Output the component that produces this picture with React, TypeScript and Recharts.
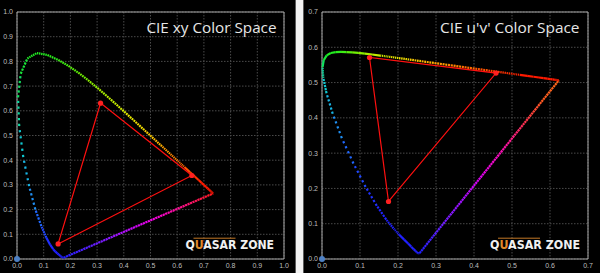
import React from "react";
import { ScatterChart, Scatter, XAxis, YAxis, CartesianGrid, ReferenceArea } from "recharts";

// CIE 1931 spectral locus, 380-700 nm in 5 nm steps
const wavelengths = [
  380, 385, 390, 395, 400, 405, 410, 415, 420, 425, 430, 435, 440, 445, 450, 455, 460, 465, 470, 475,
  480, 485, 490, 495, 500, 505, 510, 515, 520, 525, 530, 535, 540, 545, 550, 555, 560, 565, 570, 575,
  580, 585, 590, 595, 600, 605, 610, 615, 620, 625, 630, 635, 640, 645, 650, 655, 660, 665, 670, 675,
  680, 685, 690, 695, 700,
];

const locusX = [
  0.1741, 0.174, 0.1738, 0.1736, 0.1733, 0.173, 0.1726, 0.1721, 0.1714, 0.1703, 0.1689, 0.1669, 0.1644,
  0.1611, 0.1566, 0.151, 0.144, 0.1355, 0.1241, 0.1096, 0.0913, 0.0687, 0.0454, 0.0235, 0.0082, 0.0039,
  0.0139, 0.0389, 0.0743, 0.1142, 0.1547, 0.1929, 0.2296, 0.2658, 0.3016, 0.3373, 0.3731, 0.4087, 0.4441,
  0.4788, 0.5125, 0.5448, 0.5752, 0.6029, 0.627, 0.6482, 0.6658, 0.6801, 0.6915, 0.7006, 0.7079, 0.714,
  0.719, 0.723, 0.726, 0.7283, 0.73, 0.7311, 0.732, 0.7327, 0.7334, 0.734, 0.7344, 0.7346, 0.7347,
];
const locusY = [
  0.005, 0.005, 0.0049, 0.0049, 0.0048, 0.0048, 0.0048, 0.0048, 0.0051, 0.0058, 0.0069, 0.0086, 0.0109,
  0.0138, 0.0177, 0.0227, 0.0297, 0.0399, 0.0578, 0.0868, 0.1327, 0.2007, 0.295, 0.4127, 0.5384, 0.6548,
  0.7502, 0.812, 0.8338, 0.8262, 0.8059, 0.7816, 0.7543, 0.7243, 0.6923, 0.6589, 0.6245, 0.5896, 0.5547,
  0.5202, 0.4866, 0.4544, 0.4242, 0.3965, 0.3725, 0.3514, 0.334, 0.3197, 0.3083, 0.2993, 0.292, 0.2859,
  0.2809, 0.277, 0.274, 0.2717, 0.27, 0.2689, 0.268, 0.2673, 0.2666, 0.266, 0.2656, 0.2654, 0.2653,
];

// same locus in CIE 1976 u'v'
const locusU = [
  0.2568, 0.2566, 0.2564, 0.2561, 0.2557, 0.2552, 0.2545, 0.2537, 0.2522, 0.2496, 0.2461, 0.2411, 0.2347,
  0.2266, 0.2161, 0.2033, 0.1877, 0.169, 0.1441, 0.1147, 0.0828, 0.0521, 0.0282, 0.0119, 0.0035, 0.0014,
  0.0046, 0.0123, 0.0231, 0.036, 0.0501, 0.0643, 0.0792, 0.0953, 0.1127, 0.1319, 0.1531, 0.1766, 0.2026,
  0.2312, 0.2623, 0.296, 0.3315, 0.3681, 0.4035, 0.4379, 0.4692, 0.4968, 0.5203, 0.5399, 0.5565, 0.5709,
  0.583, 0.5929, 0.6005, 0.6064, 0.6109, 0.6138, 0.6162, 0.618, 0.6199, 0.6215, 0.6226, 0.6231, 0.6234,
];
const locusV = [
  0.0166, 0.0166, 0.0163, 0.0163, 0.0159, 0.0159, 0.0159, 0.0159, 0.0169, 0.0191, 0.0226, 0.0279, 0.035,
  0.0437, 0.0549, 0.0688, 0.0871, 0.1119, 0.151, 0.2044, 0.2708, 0.3427, 0.4117, 0.4698, 0.5131, 0.5432,
  0.5638, 0.577, 0.5837, 0.5861, 0.5868, 0.5865, 0.5856, 0.5841, 0.5821, 0.5796, 0.5766, 0.5732, 0.5694,
  0.5651, 0.5604, 0.5554, 0.5501, 0.5446, 0.5393, 0.5342, 0.5296, 0.5254, 0.5219, 0.519, 0.5165, 0.5143,
  0.5125, 0.5111, 0.5099, 0.509, 0.5084, 0.5079, 0.5076, 0.5073, 0.507, 0.5068, 0.5066, 0.5065, 0.5065,
];

// colour of each 5 nm step (segment starts at that wavelength)
const locusColors = [
  "#2020ff", "#2020ff", "#2020ff", "#2020ff", "#2020ff", "#2020ff", "#2020ff", "#2020ff", "#2020ff",
  "#2020ff", "#2020ff", "#2020ff", "#2020ff", "#2020ff", "#2020ff", "#2020ff", "#2020ff", "#2024ff",
  "#2030ff", "#2048ff", "#2068ff", "#2090f4", "#18b4e4", "#10c8d0", "#10d8a0", "#10e060", "#18e838",
  "#20ea24", "#22ec20", "#2cec1c", "#40ee14", "#58ee0c", "#70ee04", "#8cee00", "#a8ee00", "#c0ee00",
  "#d4ec00", "#e6e600", "#f0dc00", "#f8c800", "#ffb400", "#ff9c00", "#ff8400", "#ff6c00", "#ff5400",
  "#ff4000", "#ff3000", "#ff2400", "#ff1a00", "#ff1a00", "#ff1a00", "#ff1a00", "#ff1a00", "#ff1a00",
  "#ff1a00", "#ff1a00", "#ff1a00", "#ff1a00", "#ff1a00", "#ff1a00", "#ff1a00", "#ff1a00", "#ff1a00",
  "#ff1a00", "#ff1a00",
];

// measured gamut: blue, green, red
const gamutX = [0.154, 0.313, 0.655];
const gamutY = [0.061, 0.631, 0.338];
const gamutU = [0.175, 0.125, 0.458];
const gamutV = [0.163, 0.571, 0.527];

const xyTicks = [0, 0.1, 0.2, 0.3, 0.4, 0.5, 0.6, 0.7, 0.8, 0.9, 1.0];
const uvTicks = [0, 0.1, 0.2, 0.3, 0.4, 0.5, 0.6, 0.7];

const xyPurpleStops = [
  [0, "#2020ff"], [0.22, "#6a1eff"], [0.4, "#b010ff"], [0.58, "#f000e8"], [0.78, "#ff1090"], [1, "#ff1a1a"],
];
const uvPurpleStops = [
  [0, "#2020ff"], [0.16, "#6a1eff"], [0.3, "#a010ff"], [0.44, "#e000f0"], [0.6, "#ff10b0"],
  [0.75, "#ff3050"], [0.88, "#ff5a20"], [1, "#ff6a18"],
];

const PLOT_H = 247;
const DOT = 2.2;
const noShape = () => <g />;
const tickStyle = { fill: "#bdbdbd", fontSize: 7, fontFamily: "Liberation Sans, Arial, sans-serif" };

const markerShape = (p: any) => <circle cx={p.cx} cy={p.cy} r={2.6} fill="#ff2020" />;
const originShape = (p: any) => <circle cx={p.cx} cy={p.cy} r={3} fill="#4d80c4" />;

interface PanelProps {
  left: number;
  width: number;
  yAxisWidth: number;
  ticks: number[];
  xs: number[];
  ys: number[];
  gx: number[];
  gy: number[];
  gradId: string;
  stops: (string | number)[][];
  title: string;
  titleStart: number;
  titleEnd: number;
  markStart: number;
  markEnd: number;
}

const Panel: React.FC<PanelProps> = (p) => {
  const max = p.ticks[p.ticks.length - 1];
  const sx = (p.width - p.yAxisWidth - 12) / max;
  const sy = PLOT_H / max;

  // each 5 nm step is drawn as five square dots, like a 1 nm sampled locus
  const segments = p.xs.slice(0, -1).map((x, i) => {
    const len = Math.hypot((p.xs[i + 1] - x) * sx, (p.ys[i + 1] - p.ys[i]) * sy);
    const step = len / 5;
    const dot = Math.min(DOT, step - 0.7);
    return {
      color: locusColors[i],
      dash: step > 1.7 ? `${dot.toFixed(2)} ${(step - dot).toFixed(2)}` : undefined,
      data: [
        { x, y: p.ys[i] },
        { x: p.xs[i + 1], y: p.ys[i + 1] },
      ],
    };
  });
  const last = p.xs.length - 1;
  const purple = [
    { x: p.xs[0], y: p.ys[0] },
    { x: p.xs[last], y: p.ys[last] },
  ];
  const gamut = p.gx.map((x, i) => ({ x, y: p.gy[i] }));
  const triangle = [...gamut, gamut[0]];

  return (
    <div style={{ position: "absolute", left: p.left, top: 0, width: p.width, height: 273, background: "#000" }}>
      <ScatterChart width={p.width} height={273} margin={{ top: 12, right: 12, bottom: 0, left: 0 }}>
        <defs>
          <linearGradient id={p.gradId} x1="0" y1="0" x2="1" y2="0">
            {p.stops.map(([o, c]) => (
              <stop key={String(o)} offset={o as number} stopColor={c as string} />
            ))}
          </linearGradient>
        </defs>
        <CartesianGrid stroke="#4a4a4a" strokeDasharray="1.5 1.5" />
        <XAxis
          type="number"
          dataKey="x"
          domain={[0, max]}
          ticks={p.ticks}
          height={14}
          tick={tickStyle}
          tickFormatter={(v: number) => v.toFixed(1)}
          axisLine={false}
          tickLine={false}
          tickSize={0}
          tickMargin={4}
          interval={0}
        />
        <YAxis
          type="number"
          dataKey="y"
          domain={[0, max]}
          ticks={p.ticks}
          width={p.yAxisWidth}
          tick={tickStyle}
          tickFormatter={(v: number) => v.toFixed(1)}
          axisLine={false}
          tickLine={false}
          tickSize={0}
          tickMargin={4}
          interval={0}
        />
        <ReferenceArea x1={0} x2={max} y1={0} y2={max} fill="none" fillOpacity={0} stroke="#a8a8a8" strokeWidth={1} />
        <Scatter
          data={purple}
          shape={noShape}
          line={{ stroke: `url(#${p.gradId})`, strokeWidth: 2.2, strokeDasharray: "2.2 0.5" }}
          isAnimationActive={false}
        />
        {segments.map((s, i) => (
          <Scatter
            key={wavelengths[i]}
            data={s.data}
            shape={noShape}
            line={{ stroke: s.color, strokeWidth: DOT, strokeDasharray: s.dash }}
            isAnimationActive={false}
          />
        ))}
        <Scatter
          data={triangle}
          shape={noShape}
          line={{ stroke: "#ff1010", strokeWidth: 1.2 }}
          isAnimationActive={false}
        />
        <Scatter data={gamut} shape={markerShape} isAnimationActive={false} />
        <Scatter data={[{ x: 0, y: 0 }]} shape={originShape} isAnimationActive={false} />
      </ScatterChart>
      <svg
        width={p.width}
        height={273}
        style={{ position: "absolute", left: 0, top: 0, pointerEvents: "none" }}
      >
        <text
          x={p.titleStart - p.left}
          y={32.5}
          textLength={p.titleEnd - p.titleStart}
          lengthAdjust="spacingAndGlyphs"
          fill="#e6e6e6"
          fontSize={14.5}
          fontFamily="Open Sans, sans-serif"
        >
          {p.title}
        </text>
        <line
          x1={p.markStart - p.left + 8}
          x2={p.markStart - p.left + 50}
          y1={238.2}
          y2={238.2}
          stroke="#d8842a"
          strokeWidth={0.9}
        />
        <text
          x={p.markStart - p.left}
          y={248.6}
          textLength={p.markEnd - p.markStart}
          lengthAdjust="spacingAndGlyphs"
          fontSize={12}
          fontWeight="bold"
          fontFamily="DejaVu Sans, sans-serif"
          fill="#f0f0f0"
        >
          <tspan>Q</tspan>
          <tspan fill="#e08a2a">U</tspan>
          <tspan>ASAR ZONE</tspan>
        </text>
      </svg>
    </div>
  );
};

const App: React.FC = () => (
  <div style={{ position: "fixed", left: 0, top: 0, width: 600, height: 273, background: "#f2f2f2", overflow: "hidden" }}>
    <Panel
      left={0}
      width={296}
      yAxisWidth={17}
      ticks={xyTicks}
      xs={locusX}
      ys={locusY}
      gx={gamutX}
      gy={gamutY}
      gradId="xyPurple"
      stops={xyPurpleStops}
      title="CIE xy Color Space"
      titleStart={146.5}
      titleEnd={276.5}
      markStart={185.5}
      markEnd={274}
    />
    <Panel
      left={303}
      width={297}
      yAxisWidth={19}
      ticks={uvTicks}
      xs={locusU}
      ys={locusV}
      gx={gamutU}
      gy={gamutV}
      gradId="uvPurple"
      stops={uvPurpleStops}
      title="CIE u'v' Color Space"
      titleStart={440}
      titleEnd={579.5}
      markStart={490}
      markEnd={580}
    />
    <div style={{ position: "absolute", left: 295, top: 0, width: 1, height: 273, background: "#5c5c5c" }} />
    <div style={{ position: "absolute", left: 303, top: 0, width: 1, height: 273, background: "#5c5c5c" }} />
  </div>
);

export default App;
